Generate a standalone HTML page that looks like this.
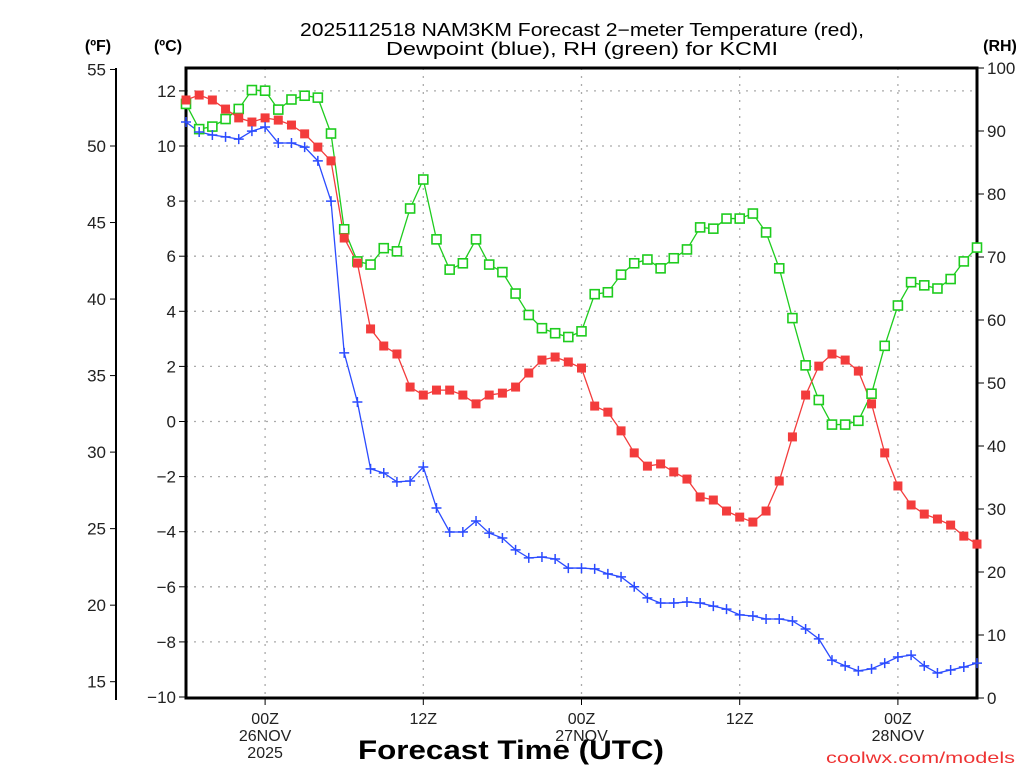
<!DOCTYPE html>
<html><head><meta charset="utf-8"><style>
html,body{margin:0;padding:0;background:#fff;}
svg{display:block;font-family:"Liberation Sans","DejaVu Sans",sans-serif;}
</style></head><body>
<svg id="chart" width="1024" height="768" viewBox="0 0 1024 768">
<rect width="1024" height="768" fill="#fff"/>
<text x="582" y="36" font-size="18" text-anchor="middle" fill="#000" textLength="564" lengthAdjust="spacingAndGlyphs">2025112518 NAM3KM Forecast 2−meter Temperature (red),</text>
<text x="582" y="55" font-size="18" text-anchor="middle" fill="#000" textLength="392" lengthAdjust="spacingAndGlyphs">Dewpoint (blue), RH (green) for KCMI</text>
<text x="98" y="51" font-size="16" font-weight="bold" text-anchor="middle">(ºF)</text>
<text x="168" y="51" font-size="16" font-weight="bold" text-anchor="middle">(ºC)</text>
<text x="1000" y="51" font-size="16" font-weight="bold" text-anchor="middle">(RH)</text>
<g id="grid"></g><g id="axes"></g><g id="series"></g>
<text x="511" y="759" font-size="27" font-weight="bold" text-anchor="middle" fill="#000" textLength="306" lengthAdjust="spacingAndGlyphs">Forecast Time (UTC)</text>
<text x="1015" y="763" font-size="16" text-anchor="end" fill="#e33" textLength="189" lengthAdjust="spacingAndGlyphs">coolwx.com/models</text>
</svg>
<script>
const hours = [0,1,2,3,4,5,6,7,8,9,10,11,12,13,14,15,16,17,18,19,20,21,22,23,24,25,26,27,28,29,30,31,32,33,34,35,36,37,38,39,40,41,42,43,44,45,46,47,48,49,50,51,52,53,54,55,56,57,58,59,60];
const tempC = [11.67,11.85,11.67,11.34,11.02,10.87,11.02,10.94,10.76,10.44,9.96,9.46,6.66,5.75,3.36,2.74,2.45,1.25,0.96,1.14,1.14,0.96,0.64,0.96,1.03,1.25,1.76,2.23,2.34,2.16,1.94,0.56,0.34,-0.34,-1.14,-1.62,-1.54,-1.83,-2.09,-2.74,-2.85,-3.25,-3.47,-3.65,-3.25,-2.16,-0.56,0.96,2.01,2.45,2.23,1.83,0.64,-1.14,-2.34,-3.03,-3.36,-3.54,-3.76,-4.16,-4.45];
const dewC = [10.87,10.51,10.40,10.33,10.25,10.54,10.69,10.11,10.11,9.96,9.46,8.0,2.49,0.71,-1.72,-1.87,-2.19,-2.16,-1.65,-3.14,-4.01,-4.01,-3.61,-4.05,-4.23,-4.66,-4.95,-4.92,-4.99,-5.32,-5.32,-5.35,-5.53,-5.64,-6.0,-6.40,-6.59,-6.59,-6.55,-6.59,-6.70,-6.81,-7.02,-7.06,-7.17,-7.17,-7.24,-7.53,-7.89,-8.66,-8.87,-9.05,-8.98,-8.77,-8.55,-8.48,-8.87,-9.13,-9.02,-8.91,-8.77];
const rh = [94.3,90.3,90.7,91.9,93.5,96.5,96.4,93.4,95.0,95.6,95.3,89.6,74.4,69.3,68.8,71.4,70.9,77.7,82.3,72.8,68.0,69.0,72.8,68.8,67.6,64.2,60.8,58.7,57.9,57.3,58.2,64.1,64.4,67.2,69.0,69.6,68.2,69.8,71.2,74.7,74.5,76.1,76.1,76.9,73.9,68.2,60.3,52.8,47.3,43.4,43.4,44.0,48.3,55.9,62.3,66.0,65.5,65.0,66.5,69.3,71.5];
const cTicks = [12,10,8,6,4,2,0,-2,-4,-6,-8,-10];
const fTicks = [55,50,45,40,35,30,25,20,15];
const rhTicks = [100,90,80,70,60,50,40,30,20,10,0];
const xTickHours = [6,18,30,42,54];
const xTickLabels = [["00Z","26NOV","2025"],["12Z"],["00Z","27NOV"],["12Z"],["00Z","28NOV"]];

const L=186,R=977,T=68,B=698;
const x = h => L + (h/60)*(R-L);
const yC = c => 697 - (c+10)*27.55;
const yF = f => yC((f-32)*5/9);
const yRH = r => B - r*(B-T)/100;
const NS="http://www.w3.org/2000/svg";
function mk(tag, attrs, parent){const e=document.createElementNS(NS,tag);for(const k in attrs)e.setAttribute(k,attrs[k]);parent.appendChild(e);return e;}
const grid=document.getElementById('grid'), axes=document.getElementById('axes'), series=document.getElementById('series');

cTicks.forEach(c=>{
  if(c>-10){const g=mk('line',{x1:L,x2:R,y1:yC(c),y2:yC(c),stroke:'#aaa','stroke-width':1.3,'stroke-dasharray':'2,6'},grid);
  
  }
  mk('line',{x1:L-7,x2:L,y1:yC(c),y2:yC(c),stroke:'#000','stroke-width':1},axes);
  const t=mk('text',{x:L-10,y:yC(c)+6,'font-size':17,'text-anchor':'end',fill:'#222'},axes);
  t.textContent=c<0?'−'+(-c):String(c);
  
  
});
mk('line',{x1:116,x2:116,y1:68,y2:700,stroke:'#000','stroke-width':2},axes);
fTicks.forEach(f=>{
  mk('line',{x1:110,x2:116,y1:yF(f),y2:yF(f),stroke:'#000','stroke-width':1},axes);
  const t=mk('text',{x:106,y:yF(f)+6,'font-size':17,'text-anchor':'end',fill:'#222'},axes);
  t.textContent=f;
  
  
});
rhTicks.forEach(r=>{
  mk('line',{x1:R,x2:R+7,y1:yRH(r),y2:yRH(r),stroke:'#000','stroke-width':1},axes);
  const t=mk('text',{x:R+10,y:yRH(r)+6,'font-size':17,'text-anchor':'start',fill:'#222'},axes);
  t.textContent=r;
  
  
});
xTickHours.forEach((h,i)=>{
  const g=mk('line',{x1:x(h),x2:x(h),y1:T,y2:B,stroke:'#aaa','stroke-width':1.3,'stroke-dasharray':'2,6'},grid);
  
  
  mk('line',{x1:x(h),x2:x(h),y1:B,y2:B+7,stroke:'#000','stroke-width':1},axes);
  xTickLabels[i].forEach((s,j)=>{
    const t=mk('text',{x:x(h),y:724+j*17,'font-size':16,'text-anchor':'middle',fill:'#222'},axes);
    t.textContent=s;
    
    
  });
});
const fr=mk('path',{d:`M${L},${T} L${R},${T} L${R},${B} L${L},${B} Z`,fill:'none',stroke:'#000','stroke-width':3},axes);



function line(vals, yf, color, name){
  const p=mk('polyline',{points:vals.map((v,i)=>x(hours[i])+','+yf(v)).join(' '),fill:'none',stroke:color,'stroke-width':1.3},series);
  
  
}
line(rh,yRH,'#1ecc1e','rh');
line(tempC,yC,'#f33c3c','temperature');
line(dewC,yC,'#2b4bff','dewpoint');
rh.forEach((v,i)=>{
  const m=mk('rect',{x:x(hours[i])-4.5,y:yRH(v)-4.5,width:9,height:9,fill:'#fff',stroke:'#1ecc1e','stroke-width':1.6},series);
  
  
});
tempC.forEach((v,i)=>{
  const m=mk('rect',{x:x(hours[i])-4.5,y:yC(v)-4.5,width:9,height:9,fill:'#f33c3c'},series);
  
  
});
dewC.forEach((v,i)=>{
  const cx=x(hours[i]),cy=yC(v);
  const m=mk('path',{d:`M${cx-5},${cy} H${cx+5} M${cx},${cy-5} V${cy+5}`,stroke:'#2b4bff','stroke-width':1.5,fill:'none'},series);
  
  
});
</script>
</body></html>
